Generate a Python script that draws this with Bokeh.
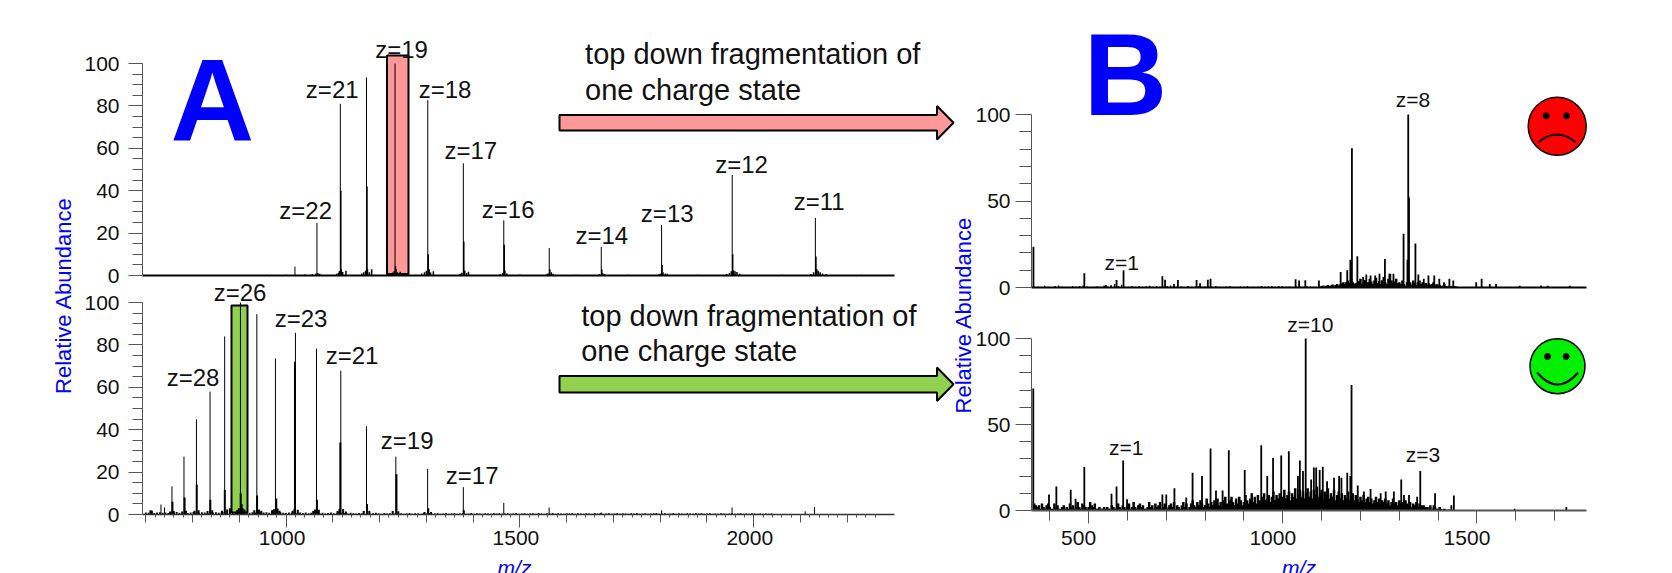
from bokeh.embed import file_html
from bokeh.resources import INLINE
from bokeh.plotting import figure
from bokeh.models import Range1d, FixedTicker, Label
from bokeh.core.properties import value
import math

FONT = "Liberation Sans"
W, H = 1672, 573
BASE_SHIFT = 0.39   # distance, in font sizes, from the SVG text anchor to the visible baseline

# ---------- Panel A, upper spectrum ----------
a_top_mz = [1019, 1066, 1116, 1172, 1233, 1303, 1379, 1465.5, 1562.7, 1674, 1803, 1954, 2131.8]
a_top_int = [4.2, 24.8, 81, 93.4, 100, 82.7, 52.9, 26, 13, 13.5, 23.9, 47.4, 27.2]
a_top_side_mz = [1117, 1173, 1234, 1304, 1380, 1466.5, 1564, 1675, 1804, 1955, 2133,
                 1056, 1064, 1068, 1072, 1108, 1112, 1114, 1118, 1121, 1128,
                 1162, 1166, 1170, 1174, 1178, 1183, 1224, 1228, 1231, 1235, 1238, 1244,
                 1290, 1296, 1300, 1306, 1309, 1315, 1372, 1376, 1382, 1386, 1390,
                 1458, 1463, 1468, 1472, 1558, 1561, 1567, 1571, 1670, 1677, 1681,
                 1798, 1801, 1806, 1811, 1815, 1942, 1948, 1952, 1957, 1960, 1964, 1970,
                 2122, 2128, 2135, 2138, 2142, 2147, 2155, 1000, 960, 1040, 1500, 1620, 1730, 1880, 2060, 2230]
a_top_side_int = [40, 42, 4.5, 10, 16, 14.5, 3, 3, 5, 10, 9,
                  0.6, 1, 1.2, 0.8, 0.8, 1.3, 2, 3, 1.6, 2.2,
                  1, 1.5, 2.2, 3, 1.5, 3, 1.2, 1.4, 2, 3, 1.5, 1.8,
                  1, 1.5, 2.2, 3, 1.4, 2, 0.8, 1.3, 2.4, 1.2, 1.8,
                  0.7, 1.2, 2.3, 1, 0.8, 1, 1.5, 0.8, 0.6, 1.2, 0.7,
                  0.6, 1, 1.5, 1, 0.8, 0.7, 1.2, 2, 2.4, 2, 1.6, 0.8,
                  0.7, 1.5, 3, 2.2, 1.5, 1, 0.6, 0.4, 0.3, 0.5, 0.5, 0.4, 0.4, 0.4, 0.4, 0.4]
a_top_labels = ["z=19", "z=21", "z=18", "z=17", "z=22", "z=16", "z=14", "z=13", "z=12", "z=11"]
a_top_label_mz = [1247, 1098.7, 1340, 1395, 1042, 1475, 1675, 1815, 1974, 2140]
a_top_label_y = [103, 84, 84.1, 55, 26.7, 27.5, 15.2, 25.6, 48.7, 31]

# ---------- Panel A, lower spectrum ----------
a_bot_mz = [732.5, 740, 756, 781.7, 808.4, 837.4, 868.7, 902.4, 937.5, 977.3, 1020, 1065, 1117,
            1172, 1234.7, 1302.7, 1379, 1465.5, 1562.5, 1674, 1803, 1953.6, 2110, 2130]
a_bot_int = [4.7, 3.3, 13.3, 27.3, 44.9, 58, 84, 100, 94.5, 73.6, 85.7, 78.2, 67.8,
             41.6, 27.3, 21.5, 12.9, 5.5, 3.3, 1, 2, 3.3, 1.5, 3.5]
a_bot_side_mz = [710, 713, 757, 783, 809, 838, 869, 903, 905, 938, 979, 1019, 1066, 1116, 1173,
                 1236, 1304, 1380, 752, 760, 778, 786, 804, 813, 832, 842, 863, 874, 880,
                 895, 899, 907, 911, 932, 942, 947, 970, 974, 982, 986, 1014, 1018, 1025,
                 1058, 1062, 1070, 1110, 1114, 1122, 1128, 1166, 1178, 1228, 1240, 1296, 1310]
a_bot_side_int = [2, 1.8, 6, 8, 14, 7, 11.5, 10, 5, 9, 7.5, 72, 7, 34, 5,
                  19, 3, 2, 1.4, 1.6, 1.4, 1.8, 1.8, 2, 1.6, 2, 1.8, 2.4, 3,
                  2, 3, 3, 2.4, 2, 2.4, 1.8, 2, 2.5, 2.8, 1.8, 1.8, 2.6, 2.2,
                  1.7, 2.4, 2.2, 1.6, 2.5, 2.6, 1.4, 1.6, 1.8, 1.6, 1.5, 1.2, 1.2]
# baseline grass, one value every 6 m/z from 700
a_bot_grass = [1.0, 0.8, 1.2, 0.7, 0.9, 1.1, 0.8, 1.0, 0.7, 1.1, 0.9, 1.2, 0.8, 1.0, 1.1, 0.7,
               1.0, 1.2, 0.9, 0.8, 1.1, 1.0, 0.7, 1.2, 0.9, 1.1, 0.8, 1.0, 1.2, 0.9, 1.1, 0.8,
               1.0, 0.7, 1.2, 0.9, 1.0, 0.8, 1.1, 1.0, 0.7, 1.0, 0.9, 1.1, 0.8, 1.0, 0.7, 0.9,
               1.1, 0.8, 0.7, 1.0, 0.9, 0.6, 0.8, 1.0, 0.7, 0.9, 0.6, 0.8, 0.7, 0.9, 0.6, 0.8,
               0.5, 0.7, 0.9, 0.6, 0.5, 0.8, 0.6, 0.7, 0.5, 0.8, 0.6, 0.5, 0.7, 0.6, 0.4, 0.7,
               0.5, 0.6, 0.8, 0.5, 0.4, 0.7, 0.5, 0.6, 0.4, 0.7, 0.5, 0.6, 0.4, 0.5, 0.7, 0.4,
               0.6, 0.5, 0.4, 0.7, 0.5, 0.6, 0.4, 0.5, 0.6, 0.4, 0.5, 0.7, 0.4, 0.5, 0.6, 0.4,
               0.5, 0.6, 0.4, 0.5, 0.7, 0.4, 0.6, 0.5, 0.4, 0.6, 0.5, 0.4, 0.7, 0.5, 0.6, 0.4,
               0.5, 0.6, 0.4, 0.5, 0.7, 0.4, 0.5, 0.6, 0.4, 0.5, 0.6, 0.4, 0.7, 0.5, 0.4, 0.6,
               0.5, 0.7, 0.4, 0.6, 0.5, 0.4, 0.6, 0.5, 0.7, 0.4, 0.6, 0.5, 0.4, 0.6, 0.5, 0.4,
               0.7, 0.5, 0.6, 0.4, 0.5, 0.6, 0.4, 0.5, 0.7, 0.4, 0.6, 0.5, 0.4, 0.6, 0.5, 0.7,
               0.4, 0.5, 0.6, 0.4, 0.5, 0.6, 0.7, 0.4, 0.5, 0.6, 0.4, 0.5, 0.7, 0.4, 0.6, 0.5,
               0.4, 0.6, 0.5, 0.4, 0.7, 0.5, 0.6, 0.4, 0.5, 0.6, 0.4, 0.5, 0.4, 0.6, 0.5, 0.4,
               0.5, 0.6, 0.4, 0.5, 0.6, 0.4, 0.5, 0.4, 0.6, 0.5, 0.4, 0.5, 0.3, 0.5, 0.4, 0.5]
a_bot_labels = ["z=26", "z=23", "z=28", "z=21", "z=19", "z=17"]
a_bot_label_mz = [901.6, 1032, 801, 1141, 1259, 1398]
a_bot_label_y = [101, 88.5, 61, 71.2, 31, 14.6]

# ---------- Panel B, upper spectrum ----------
b_top_mz = [358, 489, 544.5, 572, 590, 690, 697, 720, 730, 778, 787, 807, 814, 1033, 1042, 1058, 1093,
            1149, 1166, 1174, 1178, 1192, 1207, 1215, 1226, 1238, 1249, 1263, 1275, 1285, 1311, 1321,
            1323, 1325, 1341.5, 1349, 1363, 1375, 1390, 1403, 1415, 1429, 1439, 1498, 1512, 1533, 1549,
            1610, 1665, 1682, 1739]
b_top_int = [23.6, 8.3, 1.5, 4.3, 10, 6.5, 4.5, 2, 4.3, 4.3, 2.5, 4.5, 5, 4.8, 4, 4.2, 4,
             9, 10, 16, 80.5, 18, 6, 7.5, 7, 7, 8, 16.5, 8, 8, 31, 16,
             100, 52, 25.5, 7.5, 5, 7, 7, 5, 3, 5, 4, 3, 5, 2, 2,
             1, 1.2, 1, 1]
# low peaks, one value every 4 m/z from 1100
b_top_grass = [0.8, 1.2, 0.6, 1, 1.5, 0.8, 1.2, 1.8, 1, 1.4, 2, 1.2, 1.8, 2.5, 3, 2.2, 3.2, 4, 2.6, 5,
               3, 2, 2.6, 1.4, 3.6, 5, 2, 3, 4.4, 2, 3, 5, 3.4, 2, 4, 5.6, 2.6, 3.8, 2, 4.2,
               6, 3, 2, 5, 8, 4, 2.4, 3.4, 5, 2.4, 3, 2, 4, 2, 1, 3, 5, 3, 1.6, 4,
               2.6, 1.4, 3, 4, 2, 3, 1.6, 2.6, 1.4, 2.4, 1.6, 2, 3, 1, 2, 1.2, 1.6, 0.8, 1.2, 2,
               0.8, 0.5, 1, 0.6, 0.8, 0.5, 0.7, 0.5]
# low peaks, one value every 9 m/z from 360
b_top_low = [0.6, 0.4, 0.3, 1, 0.5, 0.3, 0.8, 1.2, 0.5, 0.3, 0.5, 0.8, 0.4, 0.9, 1.1, 0.6, 0.3, 0.4, 0.7, 0.4,
             1.2, 0.6, 1.4, 2, 0.8, 1.6, 0.5, 0.4, 0.9, 0.5, 0.8, 0.4, 0.7, 1, 0.5, 0.8, 0.4, 0.6, 0.9, 1.2,
             0.5, 0.4, 0.6, 0.3, 0.8, 0.4, 0.5, 0.9, 0.4, 0.6, 0.3, 0.4, 0.8, 0.5, 0.3, 0.6, 0.9, 0.4, 0.3, 0.6,
             0.4, 0.8, 0.3, 0.5, 0.4, 0.9, 0.4, 0.6, 0.8, 0.5, 0.9, 0.7, 0.4, 0.6, 0.5, 0.4, 0.8, 0.5, 0.7, 0.6]
b_top_labels = ["z=8", "z=1"]
b_top_label_mz = [1335, 585]
b_top_label_y = [104.6, 10.4]

# ---------- Panel B, lower spectrum ----------
b_bot_mz = [357.6, 398, 417, 454, 466.5, 489, 559, 572, 589, 599, 690, 700, 721, 751.4, 767.7, 792, 814,
            828, 845, 861, 902, 944.5, 960, 975, 996, 1015.6, 1039, 1044, 1052, 1059, 1073, 1080, 1086,
            1095, 1103, 1114, 1132, 1145, 1151, 1166, 1174, 1177, 1193, 1209, 1226, 1252, 1265, 1286,
            1305, 1312, 1325, 1354, 1346, 1364, 1373, 1388, 1392, 1408, 1434, 1440.5, 1597, 1730]
b_bot_int = [71, 9.3, 14, 12, 6.8, 25.3, 9.7, 14, 29, 6.5, 9.3, 9.3, 13, 7.5, 22, 20, 36,
             11.6, 11.6, 35, 23.6, 38, 20, 30.5, 32, 34.4, 20, 29, 23, 100, 18, 25, 25,
             23.6, 25.5, 17, 19, 20, 19, 22, 20, 73, 14.5, 11, 12.5, 10, 11, 11,
             18, 9, 9, 23, 8, 3, 2, 3, 10, 1, 3, 8.7, 1, 2]
# one value every 4 m/z from 360
b_bot_grass = [4, 3, 2, 3, 1, 4, 2, 1, 3, 4, 2, 1, 1, 4, 2, 3, 1, 1, 2, 3, 1, 2, 1, 4, 2,
               3, 1, 2, 5, 2, 1, 4, 3, 2, 1, 2, 5, 3, 2, 4, 1, 1, 2, 1, 1, 2, 1, 2, 1, 1,
               3, 2, 1, 1, 4, 2, 1, 3, 2, 1, 2, 4, 1, 2, 5, 2, 1, 3, 4, 2, 3, 1, 1, 2, 5,
               2, 3, 1, 4, 2, 3, 5, 1, 2, 4, 2, 1, 3, 4, 2, 5, 1, 3, 2, 1, 3, 5, 2, 4, 1,
               2, 4, 6, 3, 2, 5, 3, 6, 4, 2, 3, 7, 4, 2, 5, 3, 6, 4, 7, 3, 5, 2, 6, 8, 4,
               3, 6, 8, 5, 3, 7, 4, 8, 6, 3, 5, 9, 6, 4, 7, 10, 5, 8, 4, 9, 6, 5, 8, 10, 6,
               7, 9, 5, 8, 11, 6, 9, 7, 10, 5, 8, 12, 7, 9, 11, 6, 10, 8, 13, 7, 9, 12, 8, 11, 7,
               10, 13, 8, 11, 7, 12, 9, 14, 8, 10, 12, 7, 11, 9, 13, 7, 10, 8, 12, 6, 9, 11, 7, 10, 6,
               9, 7, 11, 6, 8, 10, 6, 9, 7, 5, 8, 6, 9, 5, 7, 8, 5, 7, 4, 6, 8, 5, 7, 4, 6,
               5, 7, 4, 6, 3, 5, 7, 4, 5, 3, 6, 4, 5, 3, 6, 4, 3, 5, 2, 4, 3, 5, 2, 4, 3,
               3, 1, 2, 2, 1, 3, 1, 1, 2, 1, 1, 2, 0.6, 0.6, 1, 0.4, 0.4, 0.6, 0.4, 0.4, 0.3]
b_bot_labels = ["z=10", "z=1", "z=3"]
b_bot_label_mz = [1071, 597, 1361]
b_bot_label_y = [104, 32.7, 28.5]

# ---------- Axis ticks ----------
a_y_major = [0, 20, 40, 60, 80, 100]
a_y_minor = [5, 10, 15, 25, 30, 35, 45, 50, 55, 65, 70, 75, 85, 90, 95]
a_x_major = [1000, 1500, 2000]
a_x_mid = [700, 800, 900, 1100, 1200, 1300, 1400, 1600, 1700, 1800, 1900, 2100, 2200]
a_x_minor = [v for v in range(700, 2261, 20)]
b_y_major = [0, 50, 100]
b_y_minor = [10, 20, 30, 40, 60, 70, 80, 90]
b_x_major = [500, 1000, 1500]
b_x_minor = [400, 600, 700, 800, 900, 1100, 1200, 1300, 1400, 1600, 1700]

ABS = {"position": "absolute", "left": "0px", "top": "0px"}


def frame_fig(left, right, top100, bottom, xr, shift=0):
    """A full-page transparent figure whose frame sits on one spectrum's axes.
    The frame runs above y=100 so that labels over the tallest peak are not clipped."""
    top = round(bottom - (bottom - top100) * 1.2)
    ymax = 100 * (bottom - top) / (bottom - top100)
    return figure(width=W, height=H, x_range=Range1d(*xr), y_range=Range1d(0, ymax), toolbar_location=None,
                  output_backend="svg", min_border_left=left + shift, min_border_right=W - right - shift,
                  min_border_top=top, min_border_bottom=H - bottom,
                  background_fill_color=None, border_fill_color=None, outline_line_color=None,
                  tools="", styles=ABS)


def style_axis(ax, major, minor, tick, mtick, standoff, size="21px"):
    ax.ticker = FixedTicker(ticks=major, minor_ticks=minor)
    ax.major_tick_out, ax.major_tick_in = tick, 0
    ax.minor_tick_out, ax.minor_tick_in = mtick, 0
    ax.major_tick_line_color = ax.minor_tick_line_color = ax.axis_line_color = "#555555"
    ax.major_tick_line_width = ax.minor_tick_line_width = 1
    ax.major_label_text_font = FONT
    ax.major_label_text_font_size = size
    ax.major_label_text_color = "#111111"
    ax.major_label_standoff = standoff


def spectrum(p, mz, ints, lw=1.0):
    p.segment(x0=mz, y0=[0] * len(mz), x1=mz, y1=ints, line_color="black", line_width=lw)


def zlabels(p, texts, xs, ys, size):
    for t, x, y in zip(texts, xs, ys):
        p.add_layout(Label(x=x, y=y, y_offset=round(BASE_SHIFT * size) - 1, text=t, text_font=FONT,
                           text_font_size=f"{size}px", text_align="center", text_baseline="alphabetic",
                           text_color="#111111"))


def tick_label_fig(left, right, top100, bottom, xr, shift, ticks, standoff):
    """The m/z tick labels, which sit a few pixels left of their ticks in the reference."""
    q = frame_fig(left, right, top100, bottom, xr, shift)
    q.grid.visible = False
    q.yaxis.visible = False
    ax = q.xaxis[0]
    style_axis(ax, ticks, [], 0, 0, standoff)
    ax.axis_line_color = None
    q.segment(x0=[ticks[0]], y0=[0], x1=[ticks[0]], y1=[0], line_alpha=0)
    return q


# ---------- Background drawing layer in page pixels ----------
bg = figure(width=W, height=H, x_range=Range1d(0, W), y_range=Range1d(H, 0), toolbar_location=None,
            output_backend="svg", min_border=0, background_fill_color=None, border_fill_color=None,
            outline_line_color=None, tools="", x_axis_location=None, y_axis_location=None, styles=ABS)
bg.grid.visible = False
RED, GREEN = "#FF9999", "#92D050"
bg.quad(left=[386.5], right=[408], top=[55], bottom=[273.5], fill_color=RED, line_color="black", line_width=2)
bg.quad(left=[231], right=[247], top=[305], bottom=[512], fill_color=GREEN, line_color="black", line_width=2)


def arrow(y_top, y_bot, y_head_top, y_head_bot, color):
    xs = [559, 936.5, 936.5, 953, 936.5, 936.5, 559]
    ys = [y_top, y_top, y_head_top, (y_top + y_bot) / 2, y_head_bot, y_bot, y_bot]
    bg.patch(xs, ys, fill_color=color, line_color="black", line_width=2)


arrow(114.5, 130, 105.5, 139, RED)
arrow(375.5, 392, 367, 400.5, GREEN)

for (x, y, t, sz, col, st, ang, al) in [
    (584.6, 65.3, "top down fragmentation of", 29, "#111111", "normal", 0, "left"),
    (584.6, 100.8, "one charge state", 29, "#111111", "normal", 0, "left"),
    (580.7, 327, "top down fragmentation of", 29, "#111111", "normal", 0, "left"),
    (580.7, 362, "one charge state", 29, "#111111", "normal", 0, "left"),
    (212, 145.5, "A", 116, "#0000FF", "bold", 0, "center"),
    (1125, 119.5, "B", 116, "#0000FF", "bold", 0, "center"),
    (72, 295, "Relative Abundance", 22, "#0000FF", "normal", math.pi / 2, "center"),
    (971.5, 314.5, "Relative Abundance", 22, "#0000FF", "normal", math.pi / 2, "center"),
    (514, 575, "m/z", 21, "#0000FF", "italic", 0, "center"),
    (1298.5, 575, "m/z", 21, "#0000FF", "italic", 0, "center"),
]:
    dx = -BASE_SHIFT * sz if ang else 0
    dy = 0 if ang else -BASE_SHIFT * sz
    bg.text(x=[x + dx], y=[y + dy], text=[t], text_font=value(FONT), text_font_size=value(f"{sz}px"),
            text_color=col, text_font_style=st, angle=ang, text_align=al, text_baseline="alphabetic")

# faces
bg.ellipse(x=[1556.7], y=[125.7], width=[58], height=[58], fill_color="#FF0000", line_color="black", line_width=1.5)
bg.ellipse(x=[1557], y=[365.7], width=[55], height=[55], fill_color="#00F000", line_color="black", line_width=1.5)
bg.circle(x=[1545.7, 1566, 1547, 1565.6], y=[115.3, 115.3, 356, 356], radius=3, fill_color="black", line_color="black")
bg.quadratic(x0=[1538, 1536.6], y0=[141.7, 372], x1=[1575, 1577.7], y1=[141.7, 372],
             cx=[1556.7, 1557], cy=[126.3, 396], line_color="black", line_width=2)

# ---------- Panel A upper ----------
A_L, A_R = 142, 894
a_xr = (693, 2301)
p1 = frame_fig(A_L, A_R, 63, 275, a_xr)
p1.grid.visible = False
style_axis(p1.yaxis[0], a_y_major, a_y_minor, 14, 10, 9)
p1.yaxis[0].bounds = (0, 100)
p1.xaxis[0].ticker = FixedTicker(ticks=[])
p1.xaxis[0].axis_line_color = "black"
p1.xaxis[0].axis_line_width = 2
spectrum(p1, a_top_mz, a_top_int)
spectrum(p1, a_top_side_mz, a_top_side_int, 1.5)
zlabels(p1, a_top_labels, a_top_label_mz, a_top_label_y, 24)

# ---------- Panel A lower ----------
p2 = frame_fig(A_L, A_R, 302, 514, a_xr)
p2.grid.visible = False
style_axis(p2.yaxis[0], a_y_major, a_y_minor, 14, 10, 9)
p2.yaxis[0].bounds = (0, 100)
xa = p2.xaxis[0]
style_axis(xa, a_x_major, a_x_minor, 13, 3, 3)
xa.major_label_text_color = None
xa.axis_line_color = "#333333"
xa.axis_line_width = 1.5
spectrum(p2, a_bot_mz, a_bot_int)
spectrum(p2, a_bot_side_mz, a_bot_side_int, 2)
spectrum(p2, [700 + 6 * i for i in range(len(a_bot_grass))], a_bot_grass, 1.8)
zlabels(p2, a_bot_labels, a_bot_label_mz, a_bot_label_y, 24)

# middle tick level of panel A's m/z axis, same frame as the lower spectrum
p2b = frame_fig(A_L, A_R, 302, 514, a_xr)
p2b.grid.visible = False
p2b.yaxis.visible = False
xb = p2b.xaxis[0]
style_axis(xb, a_x_mid, [], 8, 0, 0)
xb.major_label_text_color = None
xb.axis_line_color = None
p2b.segment(x0=[700], y0=[0], x1=[700], y1=[0], line_alpha=0)

p2c = tick_label_fig(A_L, A_R, 302, 514, a_xr, -4, a_x_major, 16)

# ---------- Panel B upper ----------
B_L, B_R = 1031, 1586
b_xr = (353, 1782)
p3 = frame_fig(B_L, B_R, 114, 287, b_xr)
p3.grid.visible = False
style_axis(p3.yaxis[0], b_y_major, b_y_minor, 16, 12, 5)
p3.yaxis[0].bounds = (0, 100)
p3.xaxis[0].ticker = FixedTicker(ticks=[])
p3.xaxis[0].axis_line_color = "black"
p3.xaxis[0].axis_line_width = 2
spectrum(p3, b_top_mz, b_top_int, 1.8)
spectrum(p3, [1100 + 4 * i for i in range(len(b_top_grass))], b_top_grass, 2.5)
spectrum(p3, [360 + 9 * i for i in range(len(b_top_low))], b_top_low, 1.4)
zlabels(p3, b_top_labels, b_top_label_mz, b_top_label_y, 21)

# ---------- Panel B lower ----------
p4 = frame_fig(B_L, B_R, 338, 510, b_xr)
p4.grid.visible = False
style_axis(p4.yaxis[0], b_y_major, b_y_minor, 16, 12, 5)
p4.yaxis[0].bounds = (0, 100)
xc = p4.xaxis[0]
style_axis(xc, b_x_major, b_x_minor, 13, 10, 4)
xc.major_label_text_color = None
xc.axis_line_width = 2
spectrum(p4, b_bot_mz, b_bot_int, 1.8)
spectrum(p4, [360 + 4 * i for i in range(len(b_bot_grass))], b_bot_grass, 2.5)
zlabels(p4, b_bot_labels, b_bot_label_mz, b_bot_label_y, 21)

p4c = tick_label_fig(B_L, B_R, 338, 510, b_xr, -10, b_x_major, 20)

open("out.html", "w").write(file_html([bg, p2b, p2c, p4c, p1, p2, p3, p4], INLINE))
